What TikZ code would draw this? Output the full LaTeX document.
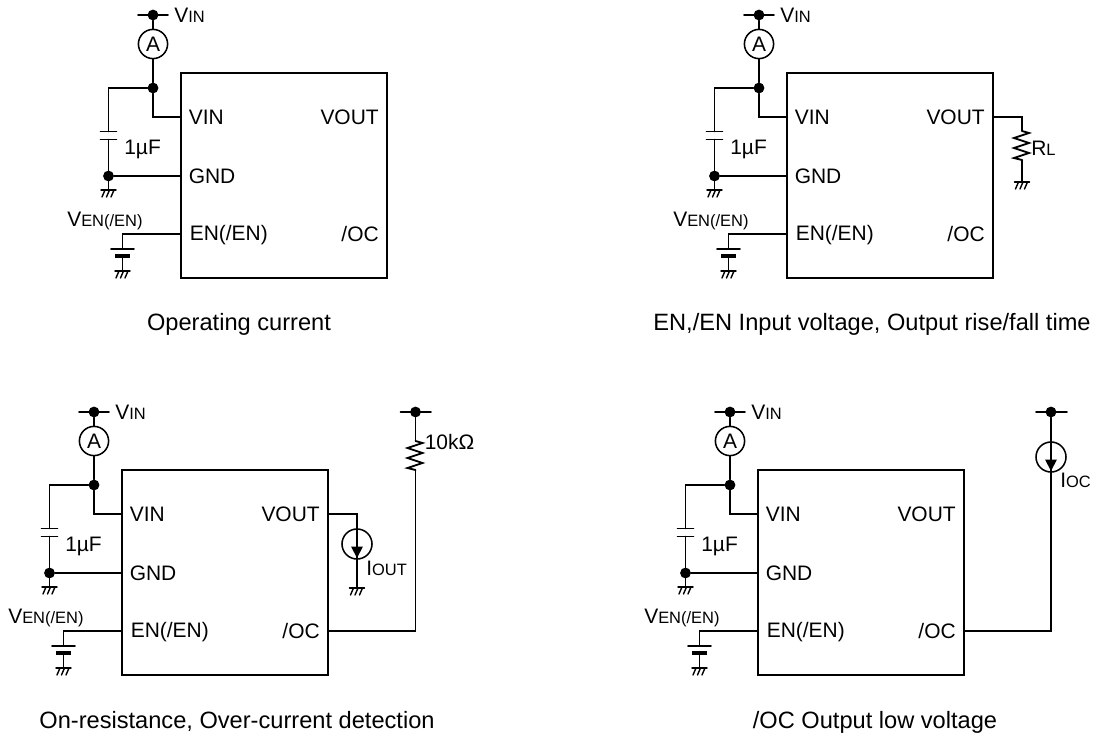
\documentclass[tikz,border=0pt]{standalone}
\usepackage{fontspec}
\setmainfont{Liberation Sans}
\usetikzlibrary{positioning}
\newcommand{\subtxt}[1]{{\fontsize{11.7}{12}\selectfont #1}}
\tikzset{
gnd/.pic={
    \draw[wire,line width=1pt] (-7.5,0) -- (7.5,0);
    \foreach \hx in {-3.5,1,5.5}
        \draw[wire,line width=1pt] (\hx,0) -- (\hx-3,7);
},
rzig/.pic={
    \draw[wire] (0,0) -- (7,2) -- (-8,7) -- (7,12) -- (-8,17) -- (7,22) -- (-8,27) -- (0,29);
    \coordinate (-bot) at (0,29);
},
ibar/.pic={
    \fill (-6,2.5) -- (6,2.5) -- (0,14) -- cycle;
}
}
\begin{document}
\begin{tikzpicture}[
x=0.025cm,y=-0.025cm,
font=\fontsize{14.9}{16}\selectfont,
wire/.style={line width=1.3pt,line cap=round,line join=miter},
chipbox/.style={draw,line width=1.3pt,minimum width=5.15cm,minimum height=5.125cm,inner sep=0pt},
jdot/.style={circle,fill=black,inner sep=0pt,minimum size=0.27cm},
meter/.style={circle,draw,line width=1.1pt,inner sep=0pt,minimum size=0.73cm,fill=white},
isrc/.style={circle,draw,line width=1.1pt,inner sep=0pt,minimum size=0.75cm},
txt/.style={inner sep=0pt,anchor=west},
txtr/.style={inner sep=0pt,anchor=east},
caption/.style={inner sep=0pt,anchor=base,font=\fontsize{16.8}{18}\selectfont}
]
    % fixes the page
    \useasboundingbox (0,0) rectangle (1101,737);

    % Common part of the four circuits
    \foreach \pn/\dx/\dy in {a/0/0, b/606/0, c/-59/397, d/577/397} {
    \begin{scope}[shift={(\dx,\dy)}]
        \node[chipbox] (chip\pn) at (284,175.5) {};
        \node[jdot] (top\pn) at (153,15) {};
        \node[jdot] (mid\pn) at (153,88) {};
        \node[jdot] (low\pn) at (108.5,176) {};
        \node[meter] (amp\pn) at (153,44) {A};

        \coordinate (railL\pn) at (138,15);
        \coordinate (railR\pn) at (168,15);
        \coordinate (vin\pn) at (181,117);
        \coordinate (gnd\pn) at (181,176);
        \coordinate (en\pn) at (181,234);
        \coordinate (capT\pn) at (108.5,131.5);
        \coordinate (capB\pn) at (108.5,139.5);
        \coordinate (enT\pn) at (122.5,249);
        \coordinate (enB\pn) at (122.5,256);

        \draw[wire] (railL\pn) -- (railR\pn);
        \draw[wire] (top\pn) -- (amp\pn);
        \draw[wire] (amp\pn) -- (mid\pn);
        \draw[wire] (mid\pn) |- (vin\pn);
        \draw[wire] (mid\pn) -| (capT\pn);
        \draw[wire] (capB\pn) -- (low\pn);
        \draw[wire] (low\pn) -- (gnd\pn);
        \draw[wire] (low\pn) -- ++(0,14) pic {gnd};
        \draw[wire] (en\pn) -| (enT\pn);
        \draw[wire] (enB\pn) -- ++(0,15) pic {gnd};

        % capacitors
        \draw[wire] (100.5,131.5) -- (116.5,131.5);
        \draw[wire] (100.5,139.5) -- (116.5,139.5);
        \draw[wire] (111,249) -- (134,249);
        \draw[line width=3pt] (115,256) -- (130,256);

        \node[txt] (vinsup\pn) at (174,15) {V\subtxt{IN}};
        \node[txt] (cval\pn) at (124,149) {1µF};
        \node[txt] (vensup\pn) at (67,221) {V\subtxt{EN(/EN)}};
        \node[txt] (vinpin\pn) at (188.5,117) {VIN};
        \node[txt] (gndpin\pn) at (188.5,176) {GND};
        \node[txt] (enpin\pn) at (189.5,235) {EN(/EN)};
        \node[txtr] (voutpin\pn) at (379,117) {VOUT};
        \node[txtr] (ocpin\pn) at (379,234) {/OC};
    \end{scope}
    }

    % Load of the second circuit
    \coordinate (voutb) at (993,117);
    \coordinate (rlT) at (1022,131);
    \draw[wire] (voutb) -| (rlT);
    \pic (rl) at (rlT) {rzig};
    \draw[wire] (rl-bot) -- ++(0,22) pic {gnd};
    \node[txt] (rllbl) at (1031,148) {R\subtxt{L}};

    % Load and pull-up of the third circuit
    \coordinate (voutc) at (328,514);
    \coordinate (ocC) at (328,631);
    \coordinate (ioutT) at (357,514);
    \coordinate (ioutG) at (357,588);
    \node[isrc] (iout) at (357,544) {};
    \draw[wire] (voutc) -- (ioutT) -- (ioutG) pic {gnd};
    \pic at (iout) {ibar};
    \node[txt] (ioutlbl) at (366,568) {I\subtxt{OUT}};

    \node[jdot] (topR) at (415.5,412) {};
    \coordinate (topRL) at (400.5,412);
    \coordinate (topRR) at (431,412);
    \coordinate (pullT) at (415.5,441);
    \draw[wire] (topRL) -- (topRR);
    \draw[wire] (topR) -- (pullT);
    \pic (pull) at (pullT) {rzig};
    \draw[wire] (pull-bot) |- (ocC);
    \node[txt] (pulllbl) at (424.5,442) {10kΩ};

    % Sink of the fourth circuit
    \coordinate (ocD) at (965,631);
    \coordinate (topSL) at (1036,412);
    \coordinate (topSR) at (1067,412);
    \node[jdot] (topS) at (1051,412) {};
    \node[isrc] (ioc) at (1051,457) {};
    \draw[wire] (topSL) -- (topSR);
    \draw[wire] (topS) |- (ocD);
    \pic at (ioc) {ibar};
    \node[txt] (ioclbl) at (1060,480) {I\subtxt{OC}};

    % Captions
    \node[caption] (capa) at (239,330) {Operating current};
    \node[caption] (capb) at (872,330) {EN,/EN Input voltage, Output rise/fall time};
    \node[caption] (capc) at (237,728) {On-resistance, Over-current detection};
    \node[caption] (capd) at (875,728) {/OC Output low voltage};
\end{tikzpicture}
\end{document}
